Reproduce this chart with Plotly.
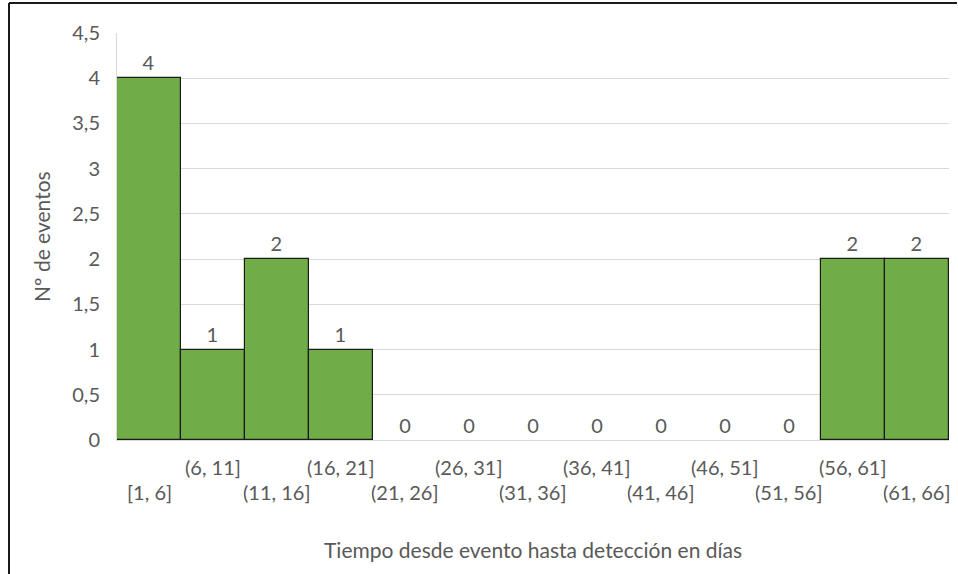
import plotly.graph_objects as go

# Histogram bins (days from event to detection) and event counts
bins = ["[1, 6]", "(6, 11]", "(11, 16]", "(16, 21]", "(21, 26]", "(26, 31]", "(31, 36]",
        "(36, 41]", "(41, 46]", "(46, 51]", "(51, 56]", "(56, 61]", "(61, 66]"]
counts = [4, 1, 2, 1, 0, 0, 0, 0, 0, 0, 0, 2, 2]
y_ticks = [0, 0.5, 1, 1.5, 2, 2.5, 3, 3.5, 4, 4.5]

FONT = "Lato, 'Noto Sans', sans-serif"
GREY = "#595959"
FS = 20

positions = list(range(len(bins)))

fig = go.Figure(go.Bar(
    x=positions,
    y=counts,
    width=1.0,
    marker=dict(color="#70AD47",
                line=dict(color="#1a1a1a", width=[1.2 if c > 0 else 0 for c in counts])),
    text=[str(c) for c in counts],
    textposition="outside",
    cliponaxis=False,
    textfont=dict(family=FONT, size=FS, color=GREY),
))

# Staggered category labels under the axis (two rows, alternating)
annotations = []
for i, lab in enumerate(bins):
    annotations.append(dict(
        x=i, xref="x", y=-0.128 if i % 2 == 0 else -0.066, yref="paper",
        text=lab, showarrow=False, yanchor="middle", xanchor="center",
        font=dict(family=FONT, size=FS, color=GREY),
    ))
annotations.append(dict(
    x=0.5, xref="paper", y=-0.27, yref="paper",
    text="Tiempo desde evento hasta detección en días", showarrow=False,
    yanchor="middle", xanchor="center",
    font=dict(family=FONT, size=FS + 1, color=GREY),
))
annotations.append(dict(
    x=-0.0908, xref="paper", y=0.5, yref="paper",
    text="Nº de eventos", showarrow=False, textangle=-90,
    yanchor="middle", xanchor="center",
    font=dict(family=FONT, size=FS + 1, color=GREY),
))

# Partial chart frame (top and left edges)
shapes = [
    dict(type="line", xref="paper", yref="paper", x0=-0.1298, x1=1.0096,
         y0=1.0737, y1=1.0737, line=dict(color="#1a1a1a", width=2)),
    dict(type="line", xref="paper", yref="paper", x0=-0.1298, x1=-0.1298,
         y0=1.0737, y1=-0.33, line=dict(color="#1a1a1a", width=2)),
]

fig.update_layout(
    width=958, height=574,
    margin=dict(l=117, r=9, t=33, b=134),
    paper_bgcolor="white", plot_bgcolor="white",
    separators=",.",
    bargap=0,
    showlegend=False,
    annotations=annotations,
    shapes=shapes,
    font=dict(family=FONT, size=FS, color=GREY),
)
fig.update_xaxes(
    range=[-0.5, len(bins) - 0.5],
    showticklabels=False, showgrid=False, zeroline=False,
    showline=True, linecolor="#D9D9D9", linewidth=1,
)
fig.update_yaxes(
    range=[0, 4.5], tickvals=y_ticks,
    showgrid=True, gridcolor="#D9D9D9", gridwidth=1,
    zeroline=False, showline=True, linecolor="#D9D9D9", linewidth=1,
    ticks="", ticklabelstandoff=12,
    tickfont=dict(family=FONT, size=FS, color=GREY),
)

fig.write_html("out.html")
